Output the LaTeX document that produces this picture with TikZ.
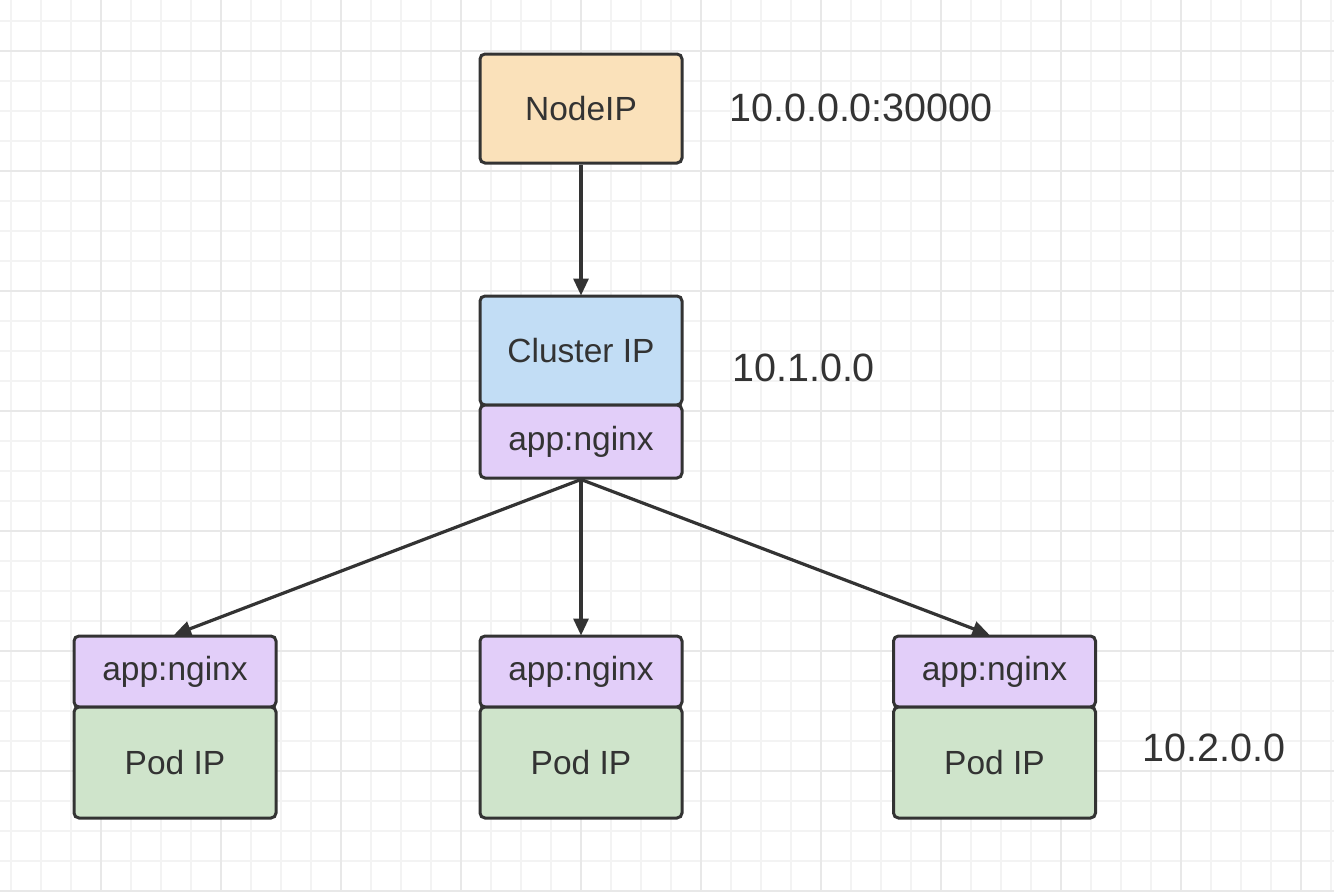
\documentclass[tikz,border=0pt]{standalone}
\usepackage{fontspec}
\setmainfont{Liberation Sans}
\usetikzlibrary{arrows.meta}
\definecolor{txt}{HTML}{333333}
\definecolor{gridminor}{HTML}{F3F3F3}
\definecolor{gridmajor}{HTML}{E8E8E8}
\definecolor{orangefill}{HTML}{FAE1BA}
\definecolor{bluefill}{HTML}{C2DDF5}
\definecolor{purplefill}{HTML}{E2CEF9}
\definecolor{greenfill}{HTML}{CFE4CB}
\tikzset{
  box/.style={draw=txt, line width=3pt, rounded corners=5pt, minimum width=202pt, inner sep=0pt, text=txt, font=\fontsize{33.5}{38}\selectfont},
  iplabel/.style={anchor=west, inner sep=0pt, text=txt, font=\fontsize{39.5}{46}\selectfont},
  conn/.style={draw=txt, line width=3.2pt, -{Triangle[length=17pt,width=15pt]}, shorten >=-1pt}
}
\begin{document}
\begin{tikzpicture}[x=1pt,y=-1pt]
\fill[white] (0,0) rectangle (1334,892);
\useasboundingbox (0,0) rectangle (1334,892);
% grid
\foreach \k in {0,...,44} { \draw[gridminor, line width=1.8pt] (11+30*\k,0) -- (11+30*\k,892); }
\foreach \k in {0,...,29} { \draw[gridminor, line width=1.8pt] (0,20.7+30*\k) -- (1334,20.7+30*\k); }
\foreach \k in {0,...,10} { \draw[gridmajor, line width=1.8pt] (101+120*\k,0) -- (101+120*\k,892); }
\foreach \k in {0,...,7} { \draw[gridmajor, line width=1.8pt] (0,50.7+120*\k) -- (1334,50.7+120*\k); }
% nodes
\node[box, fill=orangefill, minimum height=109pt] (nodeip) at (581,108.5) {NodeIP};
\node[box, fill=bluefill, minimum height=109pt] (cluster) at (581,350.5) {Cluster IP};
\node[box, fill=purplefill, minimum height=73pt] (capp) at (581,441.5) {app:nginx};
\node[box, fill=purplefill, minimum height=71pt] (lapp) at (175,671.5) {app:nginx};
\node[box, fill=greenfill, minimum height=111pt] (lpod) at (175,762.5) {Pod IP};
\node[box, fill=purplefill, minimum height=71pt] (mapp) at (581,671.5) {app:nginx};
\node[box, fill=greenfill, minimum height=111pt] (mpod) at (581,762.5) {Pod IP};
\node[box, fill=purplefill, minimum height=71pt] (rapp) at (994.5,671.5) {app:nginx};
\node[box, fill=greenfill, minimum height=111pt] (rpod) at (994.5,762.5) {Pod IP};
\node[iplabel] (l1) at (729,108) {10.0.0.0:30000};
\node[iplabel] (l2) at (732,368) {10.1.0.0};
\node[iplabel] (l3) at (1142,748) {10.2.0.0};
\coordinate (rtop) at ([xshift=-6pt]rapp.north);
% connectors
\draw[conn] (nodeip.south) -- (cluster.north);
\draw[conn] (capp.south) -- (lapp.north);
\draw[conn] (capp.south) -- (mapp.north);
\draw[conn] (capp.south) -- (rtop);
\end{tikzpicture}
\end{document}
